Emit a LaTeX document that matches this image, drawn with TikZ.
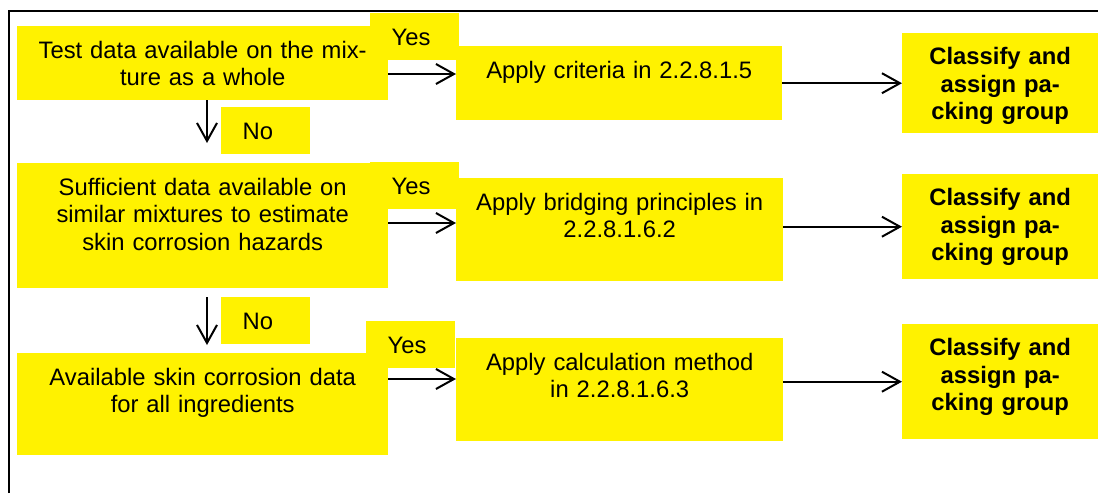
\documentclass[tikz,border=0pt]{standalone}
\usepackage{fontspec}
\setmainfont{Liberation Sans}
\usetikzlibrary{arrows.meta}

\tikzset{
  box/.style={fill=yellow, inner sep=0pt, anchor=north west, align=center,
    font=\fontsize{23.8}{27.5}\selectfont, text height=32pt},
  result/.style={font=\fontsize{23.8}{27.8}\selectfont\bfseries, text height=31pt},
  tag/.style={fill=yellow, inner sep=0pt, anchor=north west, align=left,
    font=\fontsize{23.8}{27.5}\selectfont, minimum width=89pt, text width=46pt,
    text height=32pt, text depth=15pt},
  arr/.style={line width=2pt, -{Straight Barb[length=18pt,width=20pt]}}
}

\begin{document}
\begin{tikzpicture}[x=1pt,y=-1pt]
    \useasboundingbox (0,0) rectangle (1098,493);

    % Frame
    \draw[line width=2pt] (9,493) -- (9,11) -- (1098,11);

    % Questions
    \node[box, text width=371pt, text depth=42pt] (q1) at (17,26) {Test data available on the mix-\\ture as a whole};
    \node[box, text width=371pt, text depth=93pt] (q2) at (17,163) {Sufficient data available on\\similar mixtures to estimate\\skin corrosion hazards};
    \node[box, text width=371pt, text depth=70pt] (q3) at (17,353) {Available skin corrosion data\\for all ingredients};

    % Methods
    \node[box, text width=326pt, text depth=42pt] (a1) at (456,46) {Apply criteria in 2.2.8.1.5};
    \node[box, text width=327pt, text depth=71pt] (a2) at (456,178) {Apply bridging principles in\\2.2.8.1.6.2};
    \node[box, text width=327pt, text depth=71pt] (a3) at (456,338) {Apply calculation method\\in 2.2.8.1.6.3};

    % Results
    \node[box, result, text width=196pt, text depth=69pt] (c1) at (902,33) {Classify and\\assign pa-\\cking group};
    \node[box, result, text width=196pt, text depth=74pt] (c2) at (902,174) {Classify and\\assign pa-\\cking group};
    \node[box, result, text width=196pt, text depth=84pt] (c3) at (902,324) {Classify and\\assign pa-\\cking group};

    % Yes / No tags
    \node[tag] (yes1) at (370,13) {Yes};
    \node[tag] (yes2) at (370,162) {Yes};
    \node[tag] (yes3) at (366,321) {Yes};
    \node[tag] (no1) at (221,107) {No};
    \node[tag] (no2) at (221,297) {No};

    % Arrows
    \coordinate (r1) at (0,74);
    \coordinate (r2) at (0,223);
    \coordinate (r3) at (0,379);
    \coordinate (d1) at (207,143);
    \coordinate (d2) at (207,345);
    \draw[arr] (q1.east |- r1) -- (a1.west |- r1);
    \draw[arr] (q2.east |- r2) -- (a2.west |- r2);
    \draw[arr] (q3.east |- r3) -- (a3.west |- r3);
    \draw[arr] (a1.east |- c1.west) -- (c1.west);
    \draw[arr] (a2.east |- c2.west) -- (c2.west);
    \draw[arr] (a3.east |- c3.west) -- (c3.west);
    \draw[arr] (q1.south -| d1) -- (d1);
    \draw[arr] (no2.north -| d2) -- (d2);

\end{tikzpicture}
\end{document}
